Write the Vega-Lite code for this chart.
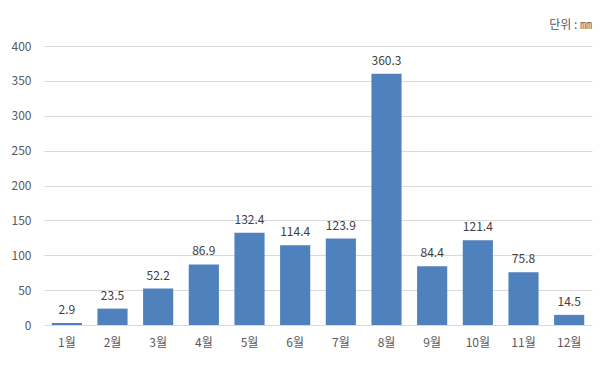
{
  "$schema": "https://vega.github.io/schema/vega-lite/v6.json",
  "width": 548,
  "height": 279,
  "autosize": {"type": "none"},
  "padding": {"left": 44, "top": 46, "right": 14, "bottom": 54},
  "background": "#ffffff",
  "title": {
    "text": "단위  :  ㎜",
    "anchor": "end",
    "orient": "top",
    "offset": 8,
    "fontSize": 12,
    "fontWeight": "normal",
    "color": "#595959",
    "font": "Noto Sans CJK KR"
  },
  "data": {
    "values": [
      {"month": "1월", "value": 2.9},
      {"month": "2월", "value": 23.5},
      {"month": "3월", "value": 52.2},
      {"month": "4월", "value": 86.9},
      {"month": "5월", "value": 132.4},
      {"month": "6월", "value": 114.4},
      {"month": "7월", "value": 123.9},
      {"month": "8월", "value": 360.3},
      {"month": "9월", "value": 84.4},
      {"month": "10월", "value": 121.4},
      {"month": "11월", "value": 75.8},
      {"month": "12월", "value": 14.5}
    ]
  },
  "encoding": {
    "x": {
      "field": "month",
      "type": "nominal",
      "sort": null,
      "scale": {"paddingInner": 0.34, "paddingOuter": 0.17},
      "axis": {
        "title": null,
        "labelAngle": 0,
        "ticks": false,
        "domain": false,
        "labelPadding": 12,
        "labelFontSize": 12,
        "labelColor": "#595959",
        "labelFont": "Noto Sans CJK KR"
      }
    },
    "y": {
      "field": "value",
      "type": "quantitative",
      "scale": {"domain": [0, 400]},
      "axis": {
        "title": null,
        "values": [0, 50, 100, 150, 200, 250, 300, 350, 400],
        "ticks": false,
        "domain": false,
        "labelPadding": 13,
        "labelFontSize": 12,
        "labelColor": "#595959",
        "labelFont": "Noto Sans CJK KR",
        "gridColor": "#d9d9d9"
      }
    }
  },
  "layer": [
    {"mark": {"type": "bar", "color": "#4f81bd"}},
    {
      "mark": {
        "type": "text",
        "baseline": "bottom",
        "dy": -6,
        "fontSize": 12,
        "color": "#404040",
        "font": "Noto Sans CJK KR"
      },
      "encoding": {"text": {"field": "value", "type": "quantitative", "format": ".1f"}}
    }
  ],
  "config": {"view": {"stroke": null}}
}
